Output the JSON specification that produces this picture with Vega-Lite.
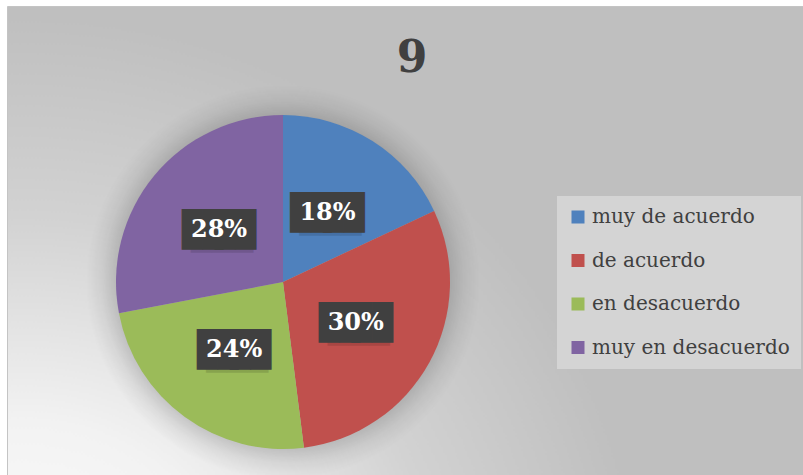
{
  "$schema": "https://vega.github.io/schema/vega-lite/v6.json",
  "width": 796,
  "height": 469,
  "autosize": {"type": "none"},
  "padding": {"left": 7, "top": 6, "right": 0, "bottom": 0},
  "background": "#ffffff",
  "title": {
    "text": "9",
    "font": "DejaVu Serif",
    "fontSize": 44,
    "fontWeight": "bold",
    "color": "#404040",
    "anchor": "middle",
    "frame": "group",
    "baseline": "alphabetic",
    "offset": 0,
    "dy": 110,
    "dx": 7
  },
  "config": {
    "view": {
      "fill": {
        "gradient": "radial",
        "x1": 0.02, "y1": 1.0, "r1": 0,
        "x2": 0.02, "y2": 1.0, "r2": 0.78,
        "stops": [
          {"offset": 0, "color": "#ffffff"},
          {"offset": 0.35, "color": "#f2f2f2"},
          {"offset": 0.68, "color": "#d2d2d2"},
          {"offset": 1, "color": "#bfbfbf"}
        ]
      },
      "stroke": "#c4c4c4",
      "strokeWidth": 1
    },
    "legend": {
      "orient": "none",
      "legendX": 550,
      "legendY": 190,
      "fillColor": "#d4d4d4",
      "padding": 11,
      "symbolType": "square",
      "symbolSize": 169,
      "symbolStrokeWidth": 0,
      "labelFont": "DejaVu Serif",
      "labelFontSize": 20,
      "labelColor": "#404040",
      "labelOffset": 4,
      "labelLimit": 400,
      "rowPadding": 23.5
    }
  },
  "data": {
    "values": [
      {"cat": "muy de acuerdo", "idx": 1, "pct": 18, "label": "18%"},
      {"cat": "de acuerdo", "idx": 2, "pct": 30, "label": "30%"},
      {"cat": "en desacuerdo", "idx": 3, "pct": 24, "label": "24%"},
      {"cat": "muy en desacuerdo", "idx": 4, "pct": 28, "label": "28%"}
    ]
  },
  "layer": [
    {
      "data": {"values": [{"s": 1}]},
      "mark": {
        "type": "arc",
        "theta": 0,
        "theta2": 6.2832,
        "radius": 197,
        "fill": {
          "gradient": "radial",
          "x1": 0.5, "y1": 0.5, "r1": 0,
          "x2": 0.5, "y2": 0.5, "r2": 0.5,
          "stops": [
            {"offset": 0, "color": "rgba(0,0,0,0.16)"},
            {"offset": 0.84, "color": "rgba(0,0,0,0.16)"},
            {"offset": 0.92, "color": "rgba(0,0,0,0.06)"},
            {"offset": 1, "color": "rgba(0,0,0,0)"}
          ]
        }
      },
      "encoding": {
        "x": {"value": 276},
        "y": {"value": 276}
      }
    },
    {
      "mark": {"type": "arc", "radius": 167},
      "encoding": {
        "x": {"value": 276},
        "y": {"value": 276},
        "theta": {"field": "pct", "type": "quantitative", "stack": true},
        "order": {"field": "idx", "type": "quantitative"},
        "color": {
          "field": "cat",
          "type": "nominal",
          "title": null,
          "sort": ["muy de acuerdo", "de acuerdo", "en desacuerdo", "muy en desacuerdo"],
          "scale": {
            "domain": ["muy de acuerdo", "de acuerdo", "en desacuerdo", "muy en desacuerdo"],
            "range": ["#4f81bd", "#c0504d", "#9bbb59", "#8064a2"]
          }
        }
      }
    },
    {
      "mark": {"type": "text", "text": "███", "font": "DejaVu Sans Mono", "fontSize": 34.4, "color": "#000000", "opacity": 0.12, "baseline": "middle", "align": "center", "dx": 3, "dy": 5},
      "encoding": {
        "x": {"value": 276},
        "y": {"value": 276},
        "theta": {"field": "pct", "type": "quantitative", "stack": true},
        "order": {"field": "idx", "type": "quantitative"},
        "radius": {"value": 83}
      }
    },
    {
      "mark": {"type": "text", "text": "██", "font": "DejaVu Sans Mono", "fontSize": 34.4, "color": "#404040", "baseline": "middle", "align": "center", "dx": -16.4, "dy": 1.6},
      "encoding": {
        "x": {"value": 276},
        "y": {"value": 276},
        "theta": {"field": "pct", "type": "quantitative", "stack": true},
        "order": {"field": "idx", "type": "quantitative"},
        "radius": {"value": 83}
      }
    },
    {
      "mark": {"type": "text", "text": "██", "font": "DejaVu Sans Mono", "fontSize": 34.4, "color": "#404040", "baseline": "middle", "align": "center", "dx": 16.4, "dy": 1.6},
      "encoding": {
        "x": {"value": 276},
        "y": {"value": 276},
        "theta": {"field": "pct", "type": "quantitative", "stack": true},
        "order": {"field": "idx", "type": "quantitative"},
        "radius": {"value": 83}
      }
    },
    {
      "mark": {"type": "text", "font": "DejaVu Serif", "fontSize": 24, "fontWeight": "bold", "color": "#ffffff", "baseline": "middle", "align": "center", "dy": 1},
      "encoding": {
        "x": {"value": 276},
        "y": {"value": 276},
        "theta": {"field": "pct", "type": "quantitative", "stack": true},
        "order": {"field": "idx", "type": "quantitative"},
        "radius": {"value": 83},
        "text": {"field": "label", "type": "nominal"}
      }
    }
  ]
}
